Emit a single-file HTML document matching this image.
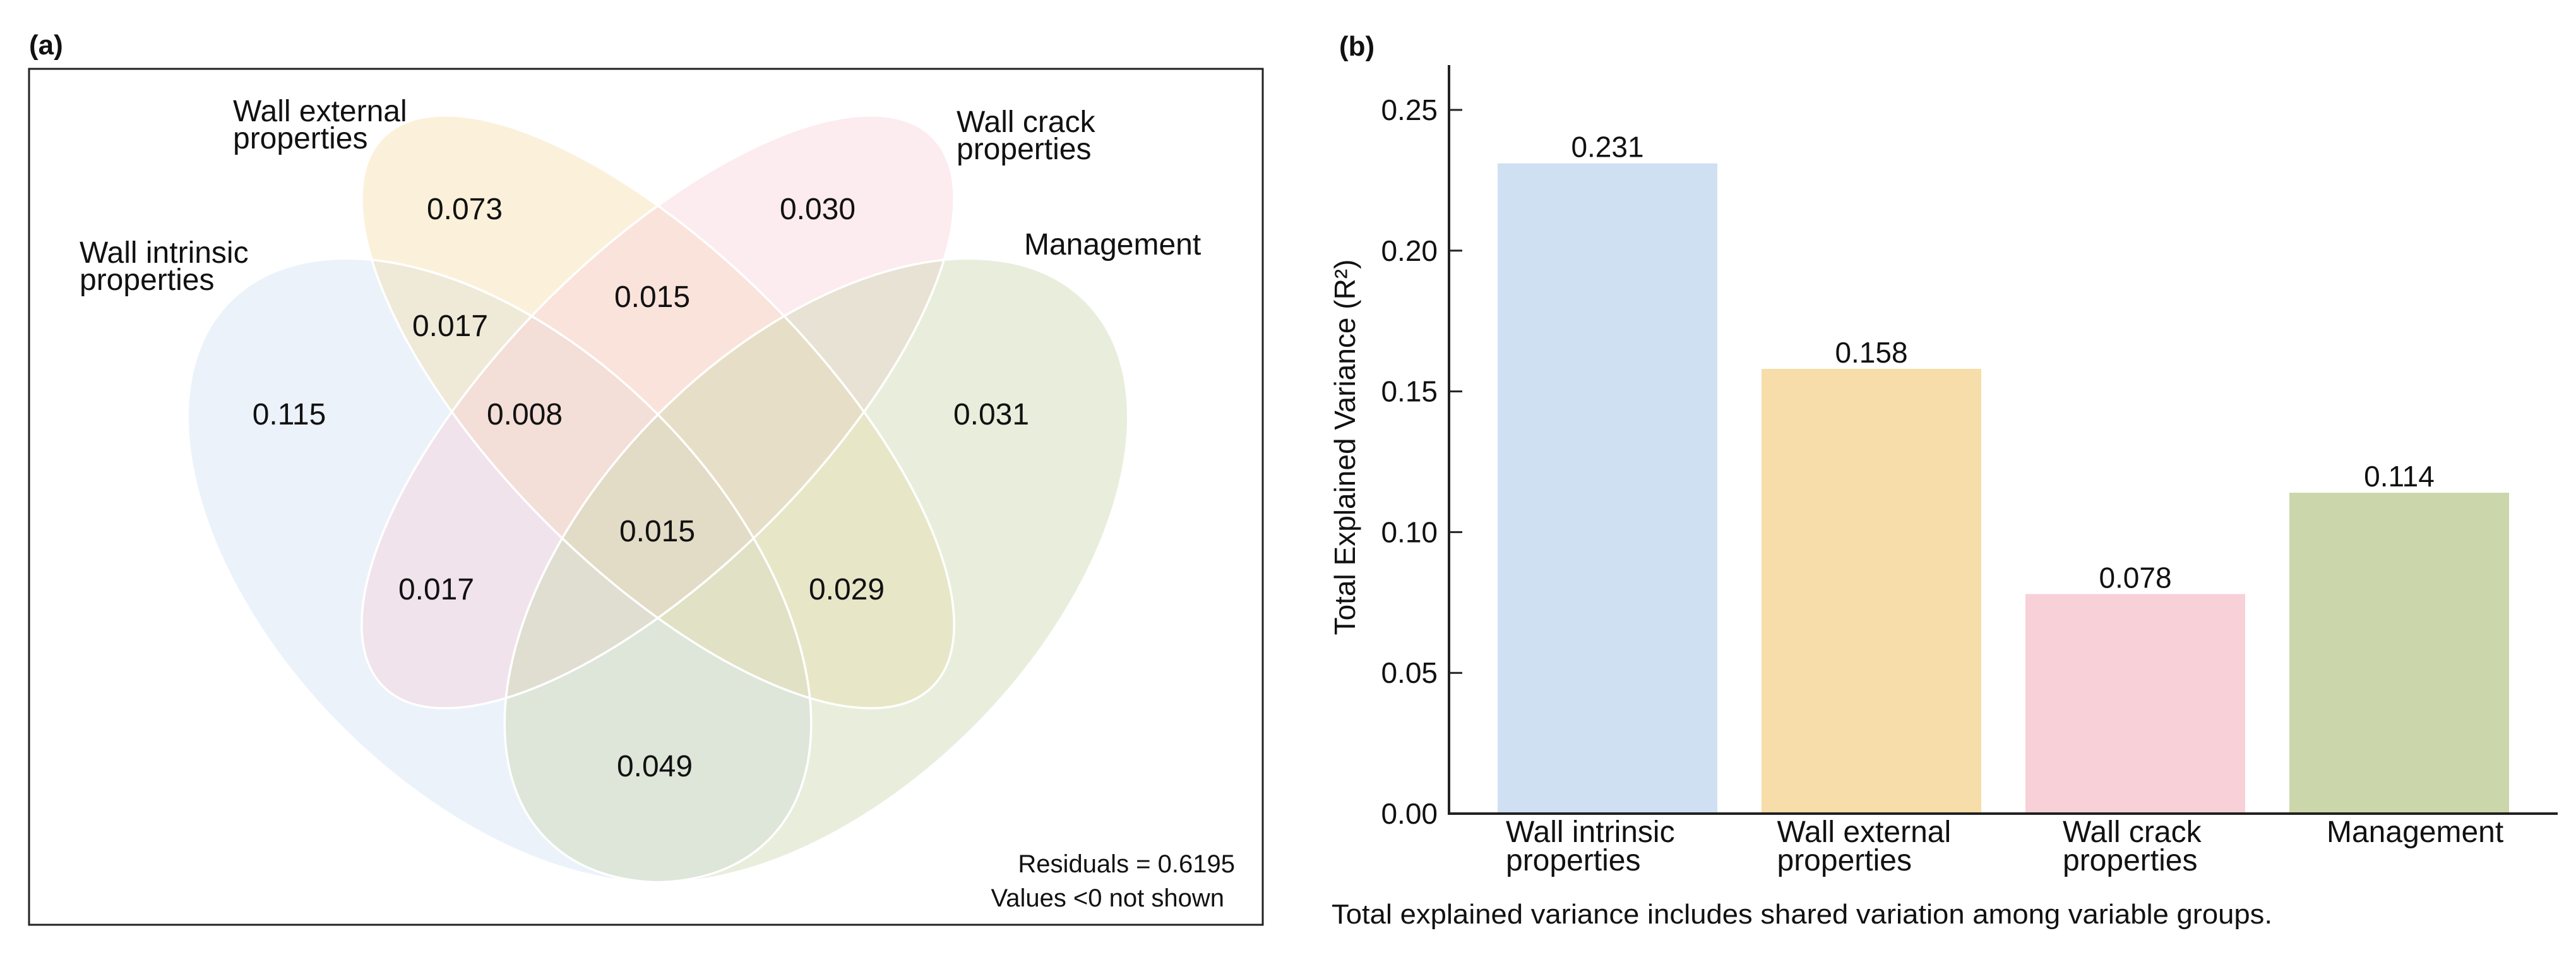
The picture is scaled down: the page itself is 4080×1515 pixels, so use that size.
<!DOCTYPE html>
<html><head><meta charset="utf-8"><style>
html,body{margin:0;padding:0;background:#fff;}
svg{display:block;font-family:"Liberation Sans",Arial,sans-serif;}
</style></head><body>
<svg id="fig" width="4080" height="1515" viewBox="0 0 4080 1515" xmlns="http://www.w3.org/2000/svg">
<rect x="0" y="0" width="4080" height="1515" fill="#fff"/>
<text x="46" y="86" font-size="44" font-weight="bold" fill="#111">(a)</text>
<rect x="46" y="109" width="1954" height="1355" fill="none" stroke="#222" stroke-width="3"/>
<g id="venn"></g>
<text x="369" y="192" font-size="48" fill="#111"><tspan x="369">Wall external</tspan><tspan x="369" dy="43">properties</tspan></text>
<text x="1515" y="209" font-size="48" fill="#111"><tspan x="1515">Wall crack</tspan><tspan x="1515" dy="43">properties</tspan></text>
<text x="126" y="416" font-size="48" fill="#111"><tspan x="126">Wall intrinsic</tspan><tspan x="126" dy="43">properties</tspan></text>
<text x="1622" y="403" font-size="48" fill="#111">Management</text>
<text x="1956" y="1381" font-size="40" text-anchor="end" fill="#111">Residuals = 0.6195</text>
<text x="1939" y="1435" font-size="40" text-anchor="end" fill="#111">Values &lt;0 not shown</text>

<text x="2121" y="88" font-size="44" font-weight="bold" fill="#111">(b)</text>
<g id="bars"></g>
<text x="2109" y="1462" font-size="44" fill="#111" textLength="1490" lengthAdjust="spacingAndGlyphs">Total explained variance includes shared variation among variable groups.</text>
</svg>
<script>
// Venn region values
const vennValues = ["0.073","0.030","0.015","0.017","0.115","0.008","0.031","0.015","0.017","0.029","0.049"];
const vennRegions = ["ext-only","crack-only","ext-crack","int-ext","int-only","int-ext-crack","mgmt-only","all-four","int-crack","ext-mgmt","int-mgmt"];
// Bar chart data
const categories = [["Wall intrinsic","properties"],["Wall external","properties"],["Wall crack","properties"],["Management"]];
const barValues = [0.231, 0.158, 0.078, 0.114];
const barLabels = ["0.231","0.158","0.078","0.114"];
const yTicks = [0, 0.05, 0.10, 0.15, 0.20, 0.25];
const yTickLabels = ["0.00","0.05","0.10","0.15","0.20","0.25"];

const NS = "http://www.w3.org/2000/svg";
function mk(tag, attrs, parent){const e=document.createElementNS(NS,tag);for(const k in attrs)e.setAttribute(k,attrs[k]);parent.appendChild(e);return e;}

// ---- Venn ----
const venn = document.getElementById('venn');
const ell = [
 {cx:791,cy:903,rx:603,ry:352,rot:45,fill:"#cfe0f2",name:"ellipse-wall-intrinsic"},
 {cx:1042,cy:652,rx:615,ry:249,rot:45,fill:"#f6dda9",name:"ellipse-wall-external"},
 {cx:1042,cy:652,rx:615,ry:249,rot:-45,fill:"#f7d0d8",name:"ellipse-wall-crack"},
 {cx:1293,cy:903,rx:603,ry:352,rot:-45,fill:"#cbd6ab",name:"ellipse-management"}
];
ell.forEach(e=>{
 const el = mk('ellipse',{cx:e.cx,cy:e.cy,rx:e.rx,ry:e.ry,transform:`rotate(${e.rot} ${e.cx} ${e.cy})`,fill:e.fill,'fill-opacity':0.42},venn);
 
 
});
ell.forEach(e=>{
 const el = mk('ellipse',{cx:e.cx,cy:e.cy,rx:e.rx,ry:e.ry,transform:`rotate(${e.rot} ${e.cx} ${e.cy})`,fill:"none",stroke:"#fff","stroke-width":3.5},venn);
 
 
});
const vennPos = [[736,330],[1295,330],[1033,469],[713,515],[458,655],[831,655],[1570,655],[1041,840],[691,932],[1341,932],[1037,1212]];
vennValues.forEach((v,i)=>{
 const t = mk('text',{x:vennPos[i][0],y:vennPos[i][1]+17,'font-size':48,'text-anchor':'middle',fill:'#111'},venn);
 t.textContent = v;
 
 
});

// ---- Bars ----
const g = document.getElementById('bars');
const axX = 2295, y0 = 1288, pxPerUnit = 4456;
const yScale = v => y0 - v*pxPerUnit;
const barW = 348, firstX = 2372, step = 418;
const xScale = i => firstX + i*step;
const colors = ["#cfe0f2","#f6dda9","#f7d0d8","#cbd6ab"];
const barNames = ["bar-wall-intrinsic","bar-wall-external","bar-wall-crack","bar-management"];

barValues.forEach((v,i)=>{
 const r = mk('rect',{x:xScale(i),y:yScale(v),width:barW,height:y0-yScale(v),fill:colors[i]},g);
 
 
 const t = mk('text',{x:xScale(i)+barW/2,y:yScale(v)-10,'font-size':46,'text-anchor':'middle',fill:'#111'},g);
 t.textContent = barLabels[i];
 
 
 const lines = categories[i];
 const widthEst = Math.max(...lines.map(s=>s.length))*23;
 const lx = xScale(i)+barW/2 - widthEst/2;
 const ct = mk('text',{x:lx,y:1333,'font-size':48,fill:'#111'},g);
 
 
 lines.forEach((s,k)=>{const ts=mk('tspan',{x:lx,dy:k?45:0},ct);ts.textContent=s;});
});
// axes
const ya = mk('line',{x1:axX,y1:103,x2:axX,y2:y0+2,stroke:'#222','stroke-width':4},g);


const xa = mk('line',{x1:axX-2,y1:y0,x2:4051,y2:y0,stroke:'#222','stroke-width':4},g);


yTicks.forEach((v,i)=>{
 if(v>0){
  const tk = mk('line',{x1:axX,y1:yScale(v),x2:axX+21,y2:yScale(v),stroke:'#222','stroke-width':3},g);
  
  
 }
 const tl = mk('text',{x:2277,y:yScale(v)+16,'font-size':46,'text-anchor':'end',fill:'#111'},g);
 tl.textContent = yTickLabels[i];
 
 
});
const yt = mk('text',{x:0,y:0,'font-size':46,'text-anchor':'middle',fill:'#111',transform:'translate(2146 708) rotate(-90)'},g);
yt.textContent = "Total Explained Variance (R²)";


</script>
</body></html>
